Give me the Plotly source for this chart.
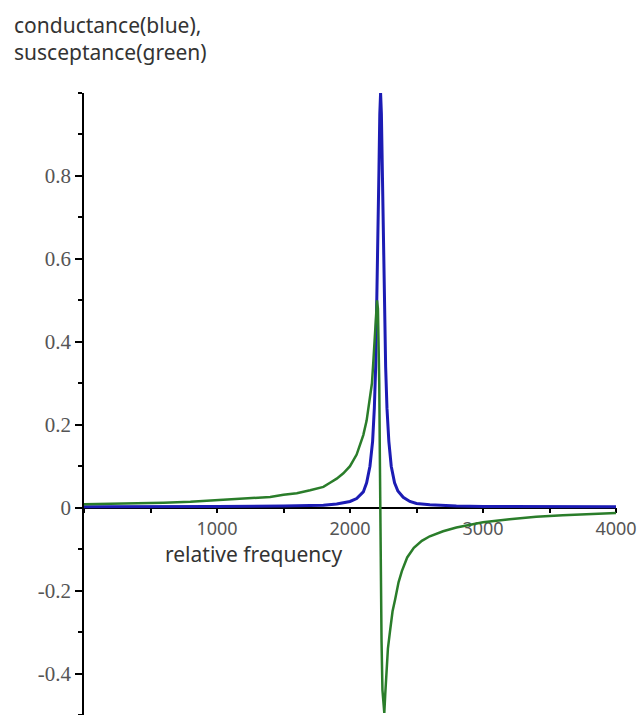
import plotly.graph_objects as go

# ---- data ----
freq_g = [0, 200, 400, 600, 800, 1000, 1200, 1400, 1500, 1600, 1700, 1800, 1850,
          1900, 1950, 2000, 2050, 2100, 2125, 2150, 2165, 2175, 2185, 2195, 2203,
          2210, 2216, 2220, 2224, 2227, 2231, 2237, 2244, 2252, 2258, 2265, 2272,
          2285, 2300, 2320, 2340, 2365, 2390, 2430, 2480, 2540, 2600, 2700, 2800,
          2900, 3000, 3200, 3400, 3600, 3800, 4000]
susceptance = [0.008, 0.009, 0.011, 0.012, 0.014, 0.018, 0.021, 0.026, 0.031, 0.035,
               0.042, 0.050, 0.060, 0.070, 0.083, 0.100, 0.128, 0.175, 0.210, 0.260,
               0.300, 0.350, 0.410, 0.470, 0.500, 0.480, 0.400, 0.300, 0.140, 0.0,
               -0.140, -0.320, -0.440, -0.490, -0.495, -0.450, -0.400, -0.340, -0.300,
               -0.250, -0.220, -0.180, -0.153, -0.120, -0.097, -0.080, -0.069, -0.057,
               -0.048, -0.041, -0.035, -0.028, -0.022, -0.018, -0.015, -0.013]

freq_b = [0, 500, 1000, 1500, 1800, 1900, 2000, 2050, 2100, 2125, 2150, 2170, 2183,
          2193, 2200, 2206, 2212, 2218, 2224, 2230, 2236, 2242, 2248, 2254, 2260,
          2268, 2278, 2292, 2310, 2335, 2360, 2400, 2450, 2500, 2600, 2800, 3000,
          3500, 4000]
conductance = [0.002, 0.002, 0.003, 0.004, 0.006, 0.009, 0.015, 0.022, 0.038, 0.060,
               0.100, 0.160, 0.240, 0.340, 0.450, 0.550, 0.680, 0.820, 0.950, 1.000,
               0.950, 0.820, 0.680, 0.550, 0.450, 0.340, 0.240, 0.160, 0.100, 0.060,
               0.040, 0.025, 0.015, 0.010, 0.007, 0.004, 0.003, 0.002, 0.002]

x_tickvals = [1000, 2000, 3000, 4000]
x_ticktext = ["1000", "2000", "3000", "4000"]
y_tickvals = [-0.4, -0.2, 0, 0.2, 0.4, 0.6, 0.8]
y_ticktext = ["-0.4", "-0.2", "0", "0.2", "0.4", "0.6", "0.8"]

title_text = "conductance(blue),<br>susceptance(green)"
xlabel_text = "relative frequency"

fig = go.Figure()
fig.add_trace(go.Scatter(x=freq_b, y=conductance, mode="lines",
                         line=dict(color="#1c1cb4", width=3), showlegend=False))
fig.add_trace(go.Scatter(x=freq_g, y=susceptance, mode="lines",
                         line=dict(color="#2a7d2a", width=2.5), showlegend=False))

fig.update_layout(
    width=638, height=715,
    margin=dict(l=84, r=22, t=93, b=0, autoexpand=False),
    paper_bgcolor="white", plot_bgcolor="white",
    xaxis=dict(range=[0, 4000], anchor="free", position=1 / 3, automargin=False,
               showgrid=False, zeroline=False, showline=True,
               linecolor="black", linewidth=1.5, layer="below traces",
               ticks="outside", ticklen=5, tickwidth=1.5, tickcolor="black",
               tickvals=x_tickvals, ticktext=x_ticktext,
               minor=dict(dtick=500, tick0=0, ticks="outside", ticklen=5,
                          tickwidth=1.5, tickcolor="black"),
               tickfont=dict(family="Noto Sans", size=18, color="#555555")),
    yaxis=dict(range=[-0.5, 1.0], automargin=False,
               showgrid=False, zeroline=False, showline=True,
               linecolor="black", linewidth=1.5,
               ticks="outside", ticklen=7, tickwidth=1.5, tickcolor="black",
               tickvals=y_tickvals, ticktext=y_ticktext,
               minor=dict(dtick=0.1, tick0=0, ticks="outside", ticklen=4,
                          tickwidth=1.5, tickcolor="black"),
               tickfont=dict(family="Liberation Serif", size=21, color="#555555")),
    annotations=[
        dict(text=xlabel_text, x=600, y=-0.112, xref="x", yref="y",
             xanchor="left", yanchor="middle", showarrow=False, borderpad=0,
             font=dict(family="Noto Sans", size=21, color="#333333")),
        dict(text=title_text, x=-0.135, y=1.135, xref="paper", yref="paper",
             xanchor="left", yanchor="top", align="left", showarrow=False,
             font=dict(family="Noto Sans", size=21, color="#333333")),
    ],
)

fig.write_html("out.html",
               config={"displayModeBar": False},
               post_script="document.body.style.margin='0';"
                           "document.body.style.overflow='hidden';")
